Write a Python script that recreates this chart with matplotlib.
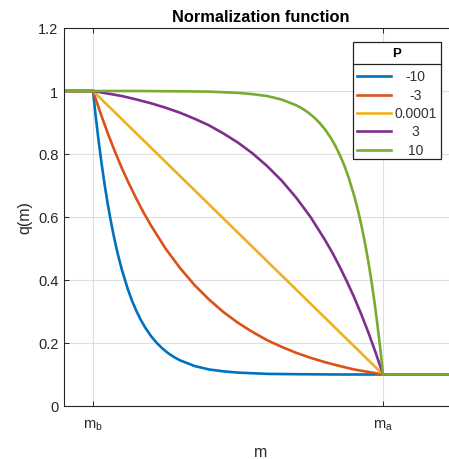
import numpy as np
import matplotlib
matplotlib.use("Agg")
import matplotlib.pyplot as plt
from matplotlib.lines import Line2D
from matplotlib.patches import Rectangle

plt.rcParams['font.family'] = ['Liberation Sans', 'DejaVu Sans']

# m scaled so that m_b = 0 and m_a = 1
p_labels = ["-10", "-3", "0.0001", "3", "10"]
colors = ["#0072BD", "#D95319", "#EDB120", "#7E2F8E", "#77AC30"]

m_p_m10 = [-0.1, 0, 0.01, 0.02, 0.03, 0.04, 0.05, 0.06, 0.07, 0.08, 0.09, 0.10, 0.12,
           0.135, 0.15, 0.165, 0.18, 0.20, 0.22, 0.24, 0.26, 0.28, 0.30, 0.35, 0.40,
           0.45, 0.50, 0.60, 0.70, 0.85, 1.0, 1.3]
q_p_m10 = [1.0, 1.0, 0.914, 0.837, 0.767, 0.703, 0.646, 0.594, 0.547, 0.504, 0.466, 0.431, 0.371,
           0.333, 0.301, 0.273, 0.249, 0.222, 0.200, 0.182, 0.167, 0.155, 0.145, 0.127, 0.116,
           0.110, 0.106, 0.102, 0.101, 0.100, 0.100, 0.100]

m_p_m3 = [-0.1, 0, 0.025, 0.05, 0.075, 0.10, 0.125, 0.15, 0.175, 0.20, 0.25, 0.30, 0.35,
          0.40, 0.45, 0.50, 0.55, 0.60, 0.65, 0.70, 0.75, 0.80, 0.85, 0.90, 0.95, 1.0, 1.3]
q_p_m3 = [1.0, 1.0, 0.932, 0.868, 0.809, 0.754, 0.704, 0.657, 0.613, 0.573, 0.500, 0.438, 0.384,
          0.338, 0.298, 0.264, 0.235, 0.209, 0.188, 0.169, 0.153, 0.139, 0.127, 0.116, 0.108,
          0.100, 0.100]

m_p_0 = [-0.1, 0, 1.0, 1.3]
q_p_0 = [1.0, 1.0, 0.100, 0.100]

m_p_3 = [-0.1, 0, 0.05, 0.10, 0.15, 0.20, 0.25, 0.30, 0.35, 0.40, 0.45, 0.50, 0.55, 0.60,
         0.65, 0.70, 0.75, 0.80, 0.825, 0.85, 0.875, 0.90, 0.925, 0.95, 0.975, 1.0, 1.3]
q_p_3 = [1.0, 1.0, 0.992, 0.984, 0.973, 0.961, 0.947, 0.931, 0.912, 0.891, 0.865, 0.836, 0.802,
         0.762, 0.716, 0.662, 0.600, 0.527, 0.487, 0.443, 0.396, 0.346, 0.291, 0.232, 0.168,
         0.100, 0.100]

m_p_10 = [-0.1, 0, 0.15, 0.30, 0.40, 0.50, 0.55, 0.60, 0.65, 0.70, 0.72, 0.74, 0.76, 0.78,
          0.80, 0.82, 0.835, 0.85, 0.865, 0.88, 0.90, 0.91, 0.92, 0.93, 0.94, 0.95, 0.96,
          0.97, 0.98, 0.99, 1.0, 1.3]
q_p_10 = [1.0, 1.0, 1.0, 0.999, 0.998, 0.994, 0.990, 0.984, 0.973, 0.955, 0.945, 0.933, 0.918,
          0.900, 0.878, 0.851, 0.827, 0.799, 0.767, 0.729, 0.669, 0.634, 0.596, 0.553, 0.506,
          0.454, 0.397, 0.333, 0.263, 0.186, 0.100, 0.100]

series = [(m_p_m10, q_p_m10), (m_p_m3, q_p_m3), (m_p_0, q_p_0),
          (m_p_3, q_p_3), (m_p_10, q_p_10)]

W, H = 449, 460
fig = plt.figure(figsize=(W / 100, H / 100), dpi=100)

def fx(x):
    return x / W

def fy(y):
    return 1 - y / H

# axes box in pixels: left 64, right ~457 (cut off), top 29, bottom 407
ax = fig.add_axes([fx(64), fy(407), fx(457 - 64), (407 - 29) / H])

gray = "#262626"
for (m, q), c in zip(series, colors):
    ax.plot(m, q, color=c, lw=1.9, solid_capstyle='butt', solid_joinstyle='round')

ax.set_xlim(-0.1, 1.255)
ax.set_ylim(0, 1.2)
ax.set_xticks([0, 1])
ax.set_xticklabels([r"m$_\mathregular{b}$", r"m$_\mathregular{a}$"])
ax.set_yticks([0, 0.2, 0.4, 0.6, 0.8, 1.0, 1.2])
ax.set_yticklabels(["0", "0.2", "0.4", "0.6", "0.8", "1", "1.2"])
ax.grid(True, color="#dedede", lw=0.8)
ax.set_axisbelow(True)
ax.tick_params(direction='in', length=3.5, width=0.7, colors=gray,
               labelsize=10.5, top=True, right=True)
ax.tick_params(axis='x', pad=8)
ax.tick_params(axis='y', pad=4)
for s in ax.spines.values():
    s.set_color(gray)
    s.set_linewidth(0.8)

ax.set_title("Normalization function", fontsize=11.8, fontweight='bold', pad=5)
ax.set_xlabel("m", fontsize=11.5, color=gray)
ax.xaxis.set_label_coords(0.5, (407 - 453) / 378)
ax.xaxis.label.set_va('center')
ax.set_ylabel("q(m)", fontsize=11.5, color=gray)
ax.yaxis.set_label_coords((25 - 64) / 393, 0.5)
ax.yaxis.label.set_va('center')

# legend drawn like the MATLAB one (title row with a separator)
lx0, lx1, ly0, ly1 = 353, 441, 43, 160
fig.add_artist(Rectangle((fx(lx0), fy(ly1)), fx(lx1 - lx0), (ly1 - ly0) / H,
                         transform=fig.transFigure, facecolor='white',
                         edgecolor='#222222', lw=0.9, zorder=5))
fig.add_artist(Line2D([fx(lx0), fx(lx1)], [fy(65), fy(65)], transform=fig.transFigure,
                      color='#222222', lw=0.9, zorder=6))
fig.text(fx((lx0 + lx1) / 2), fy(54), "P", ha='center', va='center',
         fontsize=9.5, fontweight='bold', zorder=7)
rows = [77, 96, 114, 132, 151]
for yy, lab, c in zip(rows, p_labels, colors):
    fig.add_artist(Line2D([fx(357), fx(391)], [fy(yy), fy(yy)], transform=fig.transFigure,
                          color=c, lw=1.9, zorder=7))
    fig.text(fx(415.5), fy(yy), lab, ha='center', va='center', fontsize=10,
             color="#333333", zorder=7)

fig.savefig("out.png", dpi=100, facecolor='white')
